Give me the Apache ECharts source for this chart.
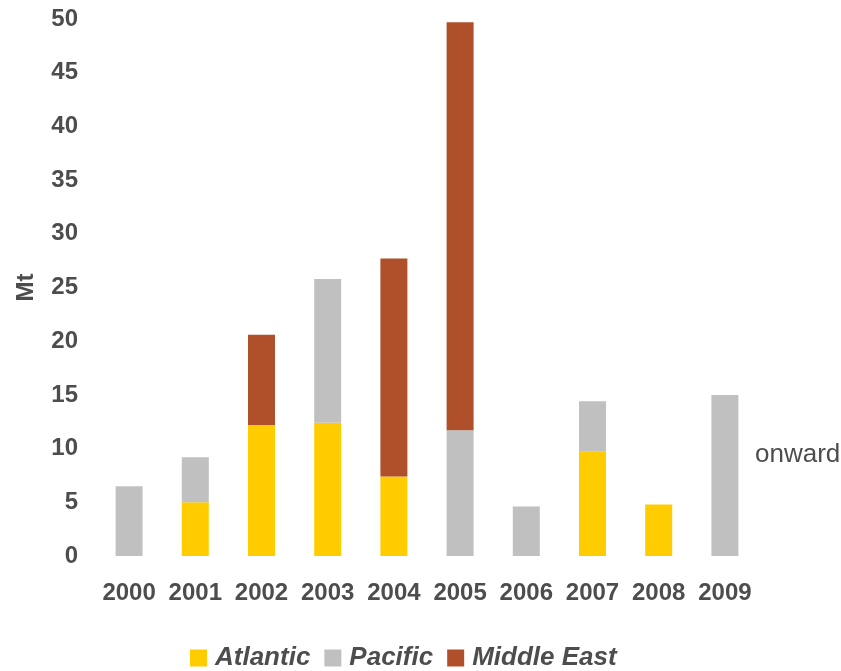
<!DOCTYPE html>
<html>
<head>
<meta charset="utf-8">
<script src="https://cdn.jsdelivr.net/npm/echarts@6/dist/echarts.min.js"></script>
<style>
  html, body { margin: 0; padding: 0; background: #fff; }
  #chart { width: 841px; height: 671px; }
</style>
</head>
<body>
<div id="chart"></div>
<script>
// data
var years = ['2000', '2001', '2002', '2003', '2004', '2005', '2006', '2007', '2008', '2009'];
var atlantic   = [0, 5.0, 12.2, 12.4, 7.4, 0, 0, 9.7, 4.8, 0];
var pacific    = [6.5, 4.2, 0, 13.4, 0, 11.7, 4.6, 4.7, 0, 15.0];
var middleEast = [0, 0, 8.4, 0, 20.3, 38.0, 0, 0, 0, 0];

var textColor = '#4d4d4d';
var font = 'Liberation Sans, Arial, sans-serif';

var chart = echarts.init(document.getElementById('chart'));

function barSeries(name, data, color) {
    return {
        name: name,
        type: 'bar',
        stack: 'total',
        data: data,
        barWidth: 27,
        itemStyle: { color: color },
        animation: false
    };
}

var option = {
    backgroundColor: '#ffffff',
    textStyle: { fontFamily: font },
    grid: { left: 96, right: 83, top: 19, bottom: 115 },
    legend: {
        left: 190,
        top: 645,
        padding: 0,
        itemWidth: 17,
        itemHeight: 17,
        itemGap: 14,
        icon: 'rect',
        textStyle: {
            color: textColor,
            fontSize: 26,
            fontWeight: 'bold',
            fontStyle: 'italic',
            fontFamily: font,
            padding: [0, 0, 0, 3]
        },
        data: ['Atlantic', 'Pacific', 'Middle East']
    },
    xAxis: {
        type: 'category',
        data: years,
        axisLine: { show: false },
        axisTick: { show: false },
        axisLabel: {
            color: textColor,
            fontSize: 24,
            fontWeight: 'bold',
            margin: 25,
            interval: 0
        }
    },
    yAxis: {
        type: 'value',
        min: 0,
        max: 50,
        interval: 5,
        name: 'Mt',
        nameLocation: 'middle',
        nameGap: 58,
        nameTextStyle: { color: textColor, fontSize: 24, fontWeight: 'bold' },
        axisLine: { show: false },
        axisTick: { show: false },
        splitLine: { show: false },
        axisLabel: {
            color: textColor,
            fontSize: 24,
            fontWeight: 'bold',
            margin: 18
        }
    },
    graphic: [{
        type: 'text',
        left: 755,
        top: 442,
        style: { text: 'onward', fill: textColor, fontSize: 26, fontFamily: font }
    }],
    series: [
        barSeries('Atlantic', atlantic, '#FFCC00'),
        barSeries('Pacific', pacific, '#C0C0C0'),
        barSeries('Middle East', middleEast, '#B0502A')
    ]
};

chart.setOption(option);
</script>
</body>
</html>
